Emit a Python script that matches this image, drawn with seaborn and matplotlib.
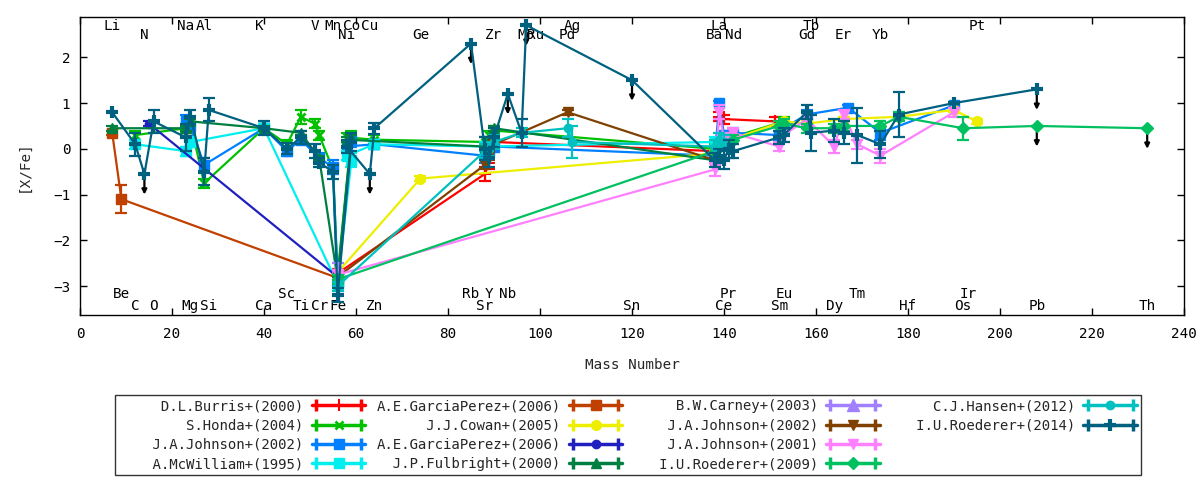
import matplotlib
matplotlib.use("Agg")
import matplotlib.pyplot as plt
import pandas as pd
import seaborn as sns
from matplotlib.lines import Line2D
from matplotlib.legend_handler import HandlerLine2D, HandlerTuple

# ---- element labels (symbol, mass number, row) ----
elem_top1 = ["Li", "Na", "Al", "K", "V", "Mn", "Co", "Cu", "Ag", "La", "Tb", "Pt"]
elem_top1_mass = [7, 23, 27, 39, 51, 55, 59, 63, 107, 139, 159, 195]
elem_top2 = ["N", "Ni", "Ge", "Zr", "Mo", "Ru", "Pd", "Ba", "Nd", "Gd", "Er", "Yb"]
elem_top2_mass = [14, 58, 74, 90, 97, 99, 106, 138, 142, 158, 166, 174]
elem_bot1 = ["Be", "Sc", "Rb", "Y", "Nb", "Pr", "Eu", "Tm", "Ir"]
elem_bot1_mass = [9, 45, 85, 89, 93, 141, 153, 169, 193]
elem_bot2 = ["C", "O", "Mg", "Si", "Ca", "Ti", "Cr", "Fe", "Zn", "Sr", "Sn", "Ce",
             "Sm", "Dy", "Hf", "Os", "Pb", "Th"]
elem_bot2_mass = [12, 16, 24, 28, 40, 48, 52, 56, 64, 88, 120, 140,
                  152, 164, 180, 192, 208, 232]

# ---- abundance data ([X/Fe] vs mass number) ----
burris_m = [56, 88, 89, 90, 138, 139, 140, 151]
burris_v = [-2.72, -0.55, -0.3, 0.15, -0.05, 0.7, 0.65, 0.6]
burris_e = [0.1, 0.15, 0.15, 0.15, 0.1, 0.1, 0.1, 0.1]

honda_m = [12, 23, 24, 27, 40, 45, 48, 51, 52, 55, 56, 59, 58, 64, 88, 89, 90, 138, 139, 140, 153]
honda_v = [0.3, 0.45, 0.55, -0.75, 0.45, 0.1, 0.7, 0.55, 0.3, -0.45, -2.75, 0.3, 0.25, 0.2,
           0.15, 0.3, 0.4, 0.0, 0.1, 0.2, 0.6]
honda_e = [0.1, 0.1, 0.1, 0.1, 0.1, 0.1, 0.15, 0.1, 0.1, 0.1, 0.1, 0.1, 0.1, 0.1,
           0.1, 0.1, 0.1, 0.1, 0.1, 0.1, 0.1]

johnson02_m = [23, 24, 27, 40, 45, 48, 52, 55, 56, 59, 58, 64, 88, 89, 90, 138, 139, 140,
               142, 152, 153, 158, 167, 174, 190]
johnson02_v = [0.6, 0.5, -0.35, 0.45, -0.05, 0.2, -0.2, -0.4, -2.9, 0.2, 0.05, 0.1, -0.15,
               -0.05, 0.05, -0.15, 1.0, 0.3, 0.35, 0.3, 0.45, 0.75, 0.9, 0.35, 0.95]
johnson02_e = [0.15, 0.15, 0.15, 0.1, 0.1, 0.1, 0.1, 0.15, 0.1, 0.15, 0.1, 0.1, 0.15,
               0.1, 0.1, 0.1, 0.05, 0.1, 0.1, 0.1, 0.1, 0.1, 0.05, 0.15, 0.05]

mcwilliam_m = [12, 23, 24, 40, 56, 59, 58, 64, 88, 138]
mcwilliam_v = [0.1, -0.05, 0.15, 0.45, -2.95, -0.25, -0.15, 0.1, 0.05, 0.15]
mcwilliam_e = [0.1, 0.1, 0.1, 0.1, 0.1, 0.15, 0.1, 0.1, 0.1, 0.1]

garcia_a_m = [7, 9, 56]
garcia_a_v = [0.35, -1.1, -2.82]
garcia_a_e = [0.05, 0.3, 0.05]

cowan_m = [56, 74, 138, 139, 140, 153, 158, 166, 178, 190, 195]
cowan_v = [-2.7, -0.65, -0.1, 0.1, 0.15, 0.6, 0.55, 0.65, 0.7, 0.85, 0.6]
cowan_e = [0.05, 0.05, 0.05, 0.05, 0.05, 0.05, 0.05, 0.05, 0.05, 0.05, 0.05]

garcia_b_m = [15, 56]
garcia_b_v = [0.55, -2.8]
garcia_b_e = [0.05, 0.05]

fulbright_m = [7, 23, 24, 40, 48, 52, 56, 59, 58, 88, 89, 90, 138]
fulbright_v = [0.45, 0.45, 0.6, 0.45, 0.35, -0.2, -2.85, 0.25, 0.2, 0.05, 0.2, 0.45, -0.25]
fulbright_e = [0.05, 0.05, 0.05, 0.05, 0.05, 0.05, 0.05, 0.05, 0.05, 0.05, 0.05, 0.05, 0.05]

carney_m = [56]
carney_v = [-2.6]
carney_e = [0.1]

johnson02b_m = [56, 88, 89, 90, 106, 138]
johnson02b_v = [-2.8, -0.35, -0.15, 0.1, 0.8, -0.25]
johnson02b_e = [0.05, 0.1, 0.1, 0.1, 0.05, 0.05]

johnson01_m = [56, 138, 139, 140, 142, 152, 153, 158, 164, 166, 169, 174, 190]
johnson01_v = [-2.75, -0.45, 0.8, 0.2, 0.35, 0.05, 0.3, 0.65, 0.05, 0.75, 0.1, -0.15, 0.8]
johnson01_e = [0.1, 0.15, 0.15, 0.15, 0.1, 0.1, 0.15, 0.15, 0.15, 0.1, 0.1, 0.15, 0.1]

roederer09_m = [56, 138, 139, 140, 142, 152, 153, 158, 164, 166, 174, 178, 192, 208, 232]
roederer09_v = [-2.85, -0.05, 0.05, 0.1, 0.2, 0.5, 0.55, 0.45, 0.45, 0.5, 0.5, 0.7, 0.45, 0.5, 0.45]
roederer09_e = [0.1, 0.1, 0.1, 0.1, 0.1, 0.1, 0.1, 0.1, 0.1, 0.1, 0.1, 0.1, 0.25, 0.0, 0.0]
roederer09_ul = [208, 232]

hansen_m = [56, 88, 89, 90, 96, 106, 107, 138, 139, 140]
hansen_v = [-3.0, -0.05, 0.0, 0.15, 0.35, 0.45, 0.15, 0.05, 0.2, 0.15]
hansen_e = [0.1, 0.15, 0.15, 0.15, 0.1, 0.2, 0.35, 0.15, 0.15, 0.15]

roederer14_m = [7, 12, 14, 16, 23, 24, 27, 28, 40, 45, 48, 51, 52, 55, 56, 59, 58, 63, 64,
                85, 88, 89, 90, 93, 96, 97, 120, 138, 139, 140, 141, 142, 152, 153, 158,
                159, 164, 166, 169, 174, 178, 190, 208]
roederer14_v = [0.8, 0.1, -0.55, 0.6, 0.25, 0.7, -0.5, 0.85, 0.45, 0.0, 0.25, -0.05, -0.3,
                -0.5, -3.2, 0.15, 0.05, -0.55, 0.45, 2.3, 0.0, -0.2, 0.25, 1.2, 0.35, 2.7,
                1.5, -0.25, -0.15, -0.25, 0.0, -0.05, 0.25, 0.3, 0.8, 0.35, 0.4, 0.35, 0.3,
                0.1, 0.75, 1.0, 1.3]
roederer14_e = [0.0, 0.25, 0.0, 0.25, 0.3, 0.15, 0.3, 0.25, 0.15, 0.12, 0.15, 0.15, 0.1,
                0.15, 0.15, 0.2, 0.15, 0.0, 0.12, 0.0, 0.25, 0.2, 0.2, 0.0, 0.3, 0.0,
                0.0, 0.15, 0.15, 0.2, 0.2, 0.15, 0.15, 0.15, 0.15, 0.4, 0.25, 0.25, 0.6,
                0.3, 0.5, 0.0, 0.0]
roederer14_ul = [14, 63, 85, 93, 97, 120, 208]

series = [
    ("D.L.Burris+(2000)", burris_m, burris_v, burris_e, "#ff0000", "+", 8, 1.5, []),
    ("S.Honda+(2004)", honda_m, honda_v, honda_e, "#00c000", "x", 6, 2.0, []),
    ("J.A.Johnson+(2002)", johnson02_m, johnson02_v, johnson02_e, "#0080ff", "s", 7, 1.0, []),
    ("A.McWilliam+(1995)", mcwilliam_m, mcwilliam_v, mcwilliam_e, "#00eeee", "s", 7, 1.0, []),
    ("A.E.GarciaPerez+(2006)", garcia_a_m, garcia_a_v, garcia_a_e, "#c04000", "s", 7, 1.0, []),
    ("J.J.Cowan+(2005)", cowan_m, cowan_v, cowan_e, "#eeee00", "o", 7, 1.0, []),
    ("A.E.GarciaPerez+(2006)", garcia_b_m, garcia_b_v, garcia_b_e, "#2020c0", "o", 6, 1.0, []),
    ("J.P.Fulbright+(2000)", fulbright_m, fulbright_v, fulbright_e, "#008040", "^", 7, 1.0, []),
    ("B.W.Carney+(2003)", carney_m, carney_v, carney_e, "#a080ff", "^", 9, 1.0, []),
    ("J.A.Johnson+(2002)", johnson02b_m, johnson02b_v, johnson02b_e, "#804000", "v", 7, 1.0, []),
    ("J.A.Johnson+(2001)", johnson01_m, johnson01_v, johnson01_e, "#ff80ff", "v", 7, 1.0, []),
    ("I.U.Roederer+(2009)", roederer09_m, roederer09_v, roederer09_e, "#00c060", "D", 6, 1.0,
     roederer09_ul),
    ("C.J.Hansen+(2012)", hansen_m, hansen_v, hansen_e, "#00c0c0", "o", 6, 1.0, []),
    ("I.U.Roederer+(2014)", roederer14_m, roederer14_v, roederer14_e, "#006080", "+", 9, 3.0,
     roederer14_ul),
]

FS = 9.8

sns.set_style("ticks")
plt.rcParams["font.family"] = ["DejaVu Sans Mono", "DejaVu Sans"]
plt.rcParams["font.size"] = FS

fig = plt.figure(figsize=(12, 4.8), dpi=100)
ax = fig.add_axes([80 / 1200, 165 / 480, 1104 / 1200, 298 / 480])

handles = []
handler_map = {}
for i, (label, m, v, e, color, marker, ms, mew, ul) in enumerate(series):
    z = 3 + i * 0.1
    df = pd.DataFrame({"mass": m, "val": v})
    sns.lineplot(data=df, x="mass", y="val", sort=False, estimator=None, color=color,
                 linewidth=1.6, marker=marker, markersize=ms, markeredgecolor=color,
                 markeredgewidth=mew, ax=ax, zorder=z, legend=False)
    ax.errorbar(m, v, yerr=e, fmt="none", ecolor=color, elinewidth=1.6, capsize=4,
                capthick=1.6, zorder=z)
    # upper limits drawn as black arrows
    for mm, vv in zip(m, v):
        if mm in ul:
            ax.annotate("", xy=(mm, vv - 0.45), xytext=(mm, vv - 0.05),
                        arrowprops=dict(arrowstyle="-|>", color="black", lw=1.6,
                                        mutation_scale=7, shrinkA=0, shrinkB=0),
                        zorder=z - 0.05)
    main = Line2D([], [], color=color, lw=2.5, marker=marker, markersize=ms,
                  markeredgecolor=color, markeredgewidth=mew)
    caps = Line2D([], [], color=color, linestyle="none", marker="|", markersize=9,
                  markeredgewidth=2.5)
    handler_map[caps] = HandlerLine2D(numpoints=2)
    handles.append(((main, caps), label.rjust(22)))

handler_map[tuple] = HandlerTuple(ndivide=1)

# empty slots so the last column holds two entries like the original
blank = Line2D([], [], color="none")
leg_items = handles[:12] + [handles[12], handles[13], (blank, " " * 22), (blank, " " * 22)]

# element labels
rows = [(elem_top1, elem_top1_mass, 2.69), (elem_top2, elem_top2_mass, 2.49),
        (elem_bot1, elem_bot1_mass, -3.17), (elem_bot2, elem_bot2_mass, -3.44)]
for names, masses, ypos in rows:
    for name, mass in zip(names, masses):
        ax.text(mass, ypos, name, ha="center", va="center", fontsize=FS + 0.5,
                color="black", zorder=2)

ax.set_xlim(0, 240)
ax.set_ylim(-3.63, 2.88)
ax.set_xticks(range(0, 241, 20))
ax.set_yticks([-3, -2, -1, 0, 1, 2])
ax.tick_params(direction="in", top=True, right=True, length=5, width=1, labelsize=FS + 0.5,
               colors="black")
ax.tick_params(axis="x", pad=9)
ax.tick_params(axis="y", pad=7)
for sp in ax.spines.values():
    sp.set_color("black")
    sp.set_linewidth(1)
ax.set_xlabel("Mass Number", fontsize=FS + 0.5, labelpad=12)
ax.set_ylabel("[X/Fe]", fontsize=FS + 0.5, labelpad=16)

leg = ax.legend([h for h, _ in leg_items], [l for _, l in leg_items], handler_map=handler_map,
                loc="upper left", ncol=4,
                bbox_to_anchor=(115 / 1200, 1 - 395 / 480), bbox_transform=fig.transFigure,
                markerfirst=False, handlelength=3.8, handletextpad=0.6, columnspacing=0.8,
                labelspacing=0.38, fontsize=FS + 0.3, frameon=True, fancybox=False,
                edgecolor="black", borderpad=0.3, borderaxespad=0)
leg.get_frame().set_linewidth(1)

fig.savefig("out.png", dpi=100)
